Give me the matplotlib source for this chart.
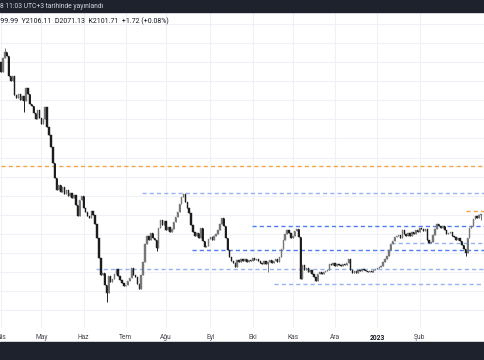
import numpy as np
import pandas as pd
import matplotlib
matplotlib.use("Agg")
import matplotlib.pyplot as plt
from matplotlib.patches import Rectangle

# daily closes, first trading day 2022-04-01 (no price scale visible)
closes = [
    2848, 2921, 2953, 2932, 2827, 2801, 2827, 2728, 2712, 2733,
    2701, 2722, 2696, 2764, 2733, 2680, 2670, 2633, 2602, 2649,
    2607, 2576, 2602, 2665, 2560, 2518, 2455, 2372, 2293, 2230,
    2256, 2220, 2246, 2209, 2230, 2199, 2214, 2188, 2204, 2152,
    2094, 2178, 2199, 2136, 2115, 2094, 2084, 2120, 2099, 2052,
    1979, 1874, 1785, 1796, 1733, 1691, 1780, 1748, 1764, 1790,
    1816, 1780, 1759, 1743, 1728, 1733, 1754, 1769, 1822, 1785,
    1775, 1738, 1712, 1785, 1853, 1947, 1989, 1968, 2005, 1979,
    1968, 1926, 2031, 2073, 2047, 2068, 2021, 2036, 2010, 2026,
    2063, 2089, 2115, 2157, 2193, 2209, 2167, 2136, 2110, 2047,
    2010, 1989, 2005, 1979, 2031, 1963, 1932, 1937, 1974, 1984,
    1968, 1989, 2000, 2021, 2052, 2084, 2042, 1979, 1916, 1879,
    1858, 1848, 1827, 1864, 1853, 1869, 1858, 1869, 1853, 1864,
    1858, 1874, 1864, 1869, 1858, 1848, 1843, 1858, 1843, 1853,
    1864, 1848, 1858, 1869, 1853, 1879, 1921, 1968, 2000, 2021,
    2005, 1979, 1989, 2015, 2026, 1984, 1764, 1837, 1811, 1822,
    1801, 1811, 1790, 1775, 1754, 1790, 1801, 1790, 1801, 1806,
    1811, 1843, 1837, 1848, 1832, 1843, 1837, 1832, 1843, 1837,
    1848, 1869, 1811, 1796, 1806, 1796, 1811, 1806, 1816, 1811,
    1806, 1801, 1806, 1801, 1811, 1816, 1822, 1827, 1832, 1853,
    1869, 1885, 1916, 1947, 1963, 1984, 1989, 1995, 1979, 2021,
    2000, 1989, 2005, 1989, 2010, 2000, 2021, 2010, 2031, 2026,
    2015, 2026, 1968, 1953, 1958, 1995, 2026, 2052, 2042, 2031,
    2042, 2021, 2000, 2005, 2010, 1989, 1984, 1968, 1979, 1963,
    1942, 1921, 1900, 1979, 2031, 2042, 2078, 2094, 2084, 2099.99, 2101.71,
]
first_open = 2900
wick_highs = {2: 2974, 250: 2106.11}
wick_lows = {12: 2639, 55: 1644, 81: 1911, 139: 1801, 242: 1885, 250: 2071.13}

# horizontal levels: price, first bar, style
level_prices = [2357, 2214, 2042, 1916, 1816, 1738, 1953, 2120]
level_start_bar = [0, 73.5, 130.5, 99.5, 49.5, 142, 203, 242]
level_kind = ["orange", "pale", "bright", "bright", "pale", "pale", "pale", "orange"]

month_labels = ["Nis", "May", "Haz", "Tem", "Ağu", "Eyl", "Eki", "Kas", "Ara", "2023", "Şub"]
published = "8 11:03 UTC+3 tarihinde yayınlandı"

plt.rcParams["font.family"] = ["Roboto", "DejaVu Sans"]

n = len(closes)
dates = pd.bdate_range("2022-04-01", periods=n)
idx = np.arange(n)
close = np.array(closes, dtype=float)
opn = np.concatenate([[first_open], close[:-1]])
high = np.maximum(opn, close)
low = np.minimum(opn, close)
for k, v in wick_highs.items():
    high[k] = max(high[k], v)
for k, v in wick_lows.items():
    low[k] = min(low[k], v)

W, H = 485, 360
fig = plt.figure(figsize=(W / 100, H / 100), dpi=100)
fig.patch.set_facecolor("white")

ax_top, ax_bot = 12, 328
ax = fig.add_axes([0, 1 - ax_bot / H, 1, (ax_bot - ax_top) / H])
ax.set_facecolor("white")

px_per_bar = 1.92
x0 = -0.52
ax.set_xlim(x0, x0 + W / px_per_bar)
ax.set_ylim(1507.6, 3162.2)

# grid
month_first = [0] + [i for i in range(1, n) if dates[i].month != dates[i - 1].month]
month_first = month_first[:len(month_labels)]
ax.set_xticks(month_first)
ax.set_xticklabels(month_labels)
for lab in ax.get_xticklabels():
    lab.set_fontsize(4.8)
    lab.set_color("#434651")
    if lab.get_text() == "2023":
        lab.set_fontweight("bold")
        lab.set_color("#131722")
ax.set_yticks(np.arange(1600, 3200, 100))
ax.grid(True, color="#eef1f8", linewidth=0.8)
ax.set_axisbelow(True)
ax.tick_params(axis="x", length=0, pad=4.0)
ax.tick_params(axis="y", length=0, labelleft=False)
for s in ax.spines.values():
    s.set_visible(False)

# levels
level_colors = {"orange": "#f3a64a", "pale": "#98b2f6", "bright": "#4d7bf0"}
for p, st, kind in zip(level_prices, level_start_bar, level_kind):
    ax.plot([st, n + 5], [p, p], color=level_colors[kind], linewidth=1.0,
            dashes=(3.0, 2.2), zorder=1)

# candles
up = close >= opn
colors = np.where(up, "#777777", "#1c1c1c")
ax.vlines(idx, low, high, colors=colors, linewidth=0.7, zorder=2)
body_lo = np.minimum(opn, close)
body_h = np.maximum(np.abs(close - opn), 3.0)
ax.bar(idx, body_h, bottom=body_lo, width=0.72, color=colors,
       edgecolor=colors, linewidth=0.3, zorder=3)

# top and bottom bars
fig.patches.append(Rectangle((0, 1 - 12 / H), 1, 12 / H, transform=fig.transFigure,
                             color="#1e222d", zorder=10))
fig.patches.append(Rectangle((0, 0), 1, 18 / H, transform=fig.transFigure,
                             color="#1e222d", zorder=10))
fig.text(0.5 / W, 1 - 6.5 / H, published, color="#d1d4dc", fontsize=4.9,
         va="center", ha="left", zorder=11)

chg = close[-1] - close[-2]
pct = chg / close[-2] * 100
legend = (f"A{opn[-1]:.2f}  Y{high[-1]:.2f}  D{low[-1]:.2f}  "
          f"K{close[-1]:.2f}  {chg:+.2f} ({pct:+.2f}%)")
fig.text(-12.3 / W, 1 - 21.5 / H, legend, color="#131722", fontsize=5,
         va="center", ha="left")

fig.savefig("out.png", dpi=100)
